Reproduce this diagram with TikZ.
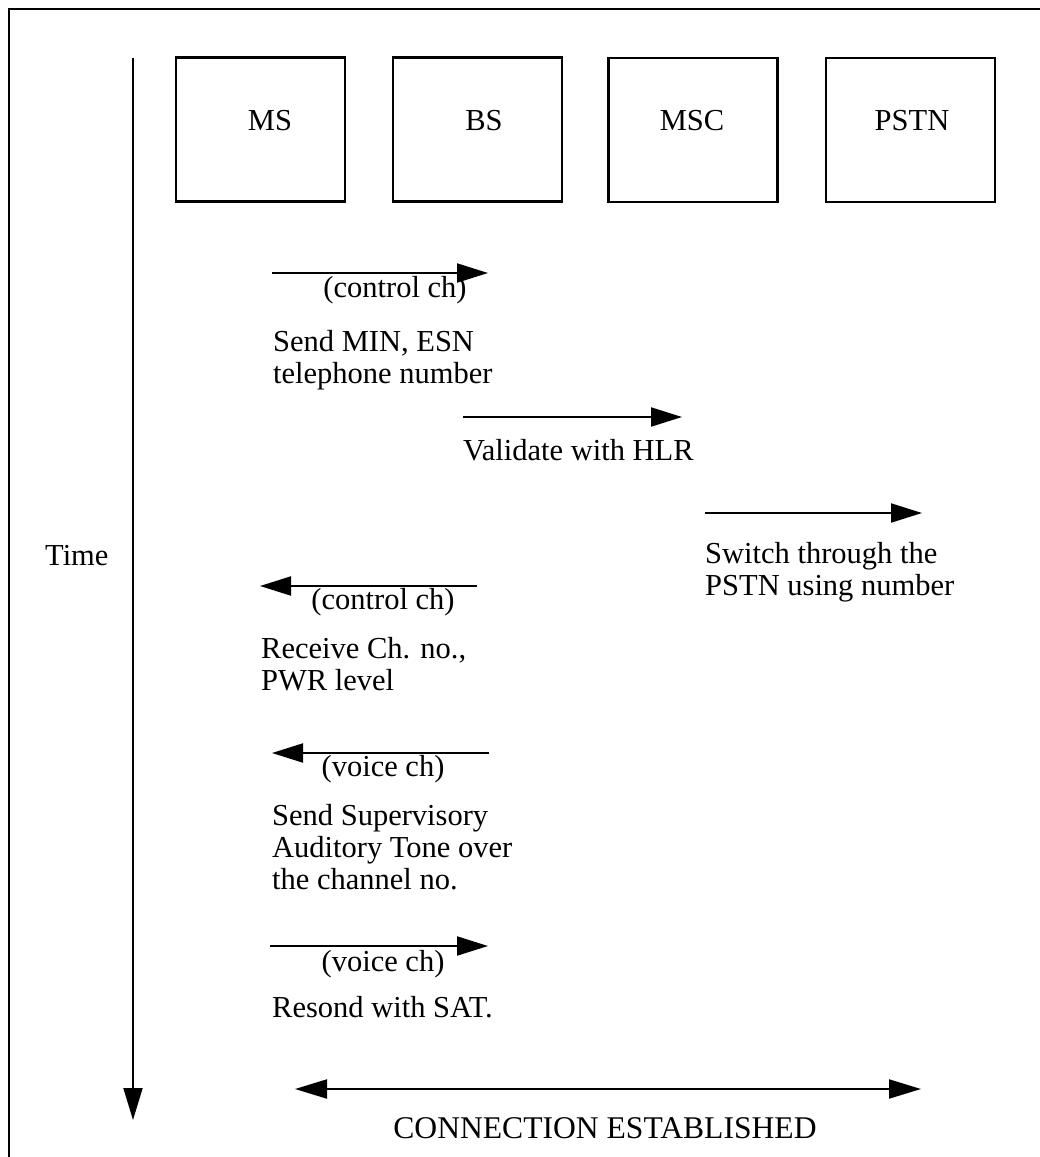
\documentclass[tikz,border=0pt]{standalone}
\usepackage{fontspec}
\setmainfont{Liberation Serif}
\usetikzlibrary{arrows.meta}
\newcommand\twolines[2]{\vtop{\hbox{#1}\hbox{#2}}}
\newcommand\threelines[3]{\vtop{\hbox{#1}\hbox{#2}\hbox{#3}}}
\begin{document}
\begin{tikzpicture}[x=1pt,y=-1pt,
  txt/.style={inner sep=0pt, font=\fontsize{30.5}{32}\selectfont},
  lbl/.style={txt, anchor=base west},
  clbl/.style={txt, anchor=base},
  entity/.style={draw, line width=2.2pt, minimum width=169pt, minimum height=144pt, inner sep=0pt},
  msg/.style={line width=2pt, -{Triangle[length=31pt,width=19pt]}},
  bimsg/.style={line width=2pt, {Triangle[length=32pt,width=19pt]}-{Triangle[length=32pt,width=19pt]}},
  frame/.style={line width=2.2pt},
]
\useasboundingbox (0,0) rectangle (1040,1157);
\fill[white] (0,0) rectangle (1040,1157);

% outer frame (left and top edges visible)
\coordinate (fbl) at (9,1157);
\coordinate (ftl) at (9,9);
\coordinate (ftr) at (1040,9);
\draw[frame] (fbl) -- (ftl) -- (ftr);

% time axis
\coordinate (ts) at (133,58);
\coordinate (te) at (133,1120);
\draw[line width=2pt, -{Triangle[length=32pt,width=19pt]}] (ts) -- (te);
\node[lbl] (time) at (45,565) {Time};

% entities
\node[entity] (ms)   at (260.5,129.5) {};
\node[entity] (bs)   at (477.5,129.5) {};
\node[entity] (msc)  at (693,130) {};
\node[entity] (pstn) at (910.5,130) {};
\node[clbl] (mst)   at (270,130) {MS};
\node[clbl] (bst)   at (484,130) {BS};
\node[clbl] (msct)  at (692,130) {MSC};
\node[clbl] (pstnt) at (912,130) {PSTN};

% message 1
\coordinate (a1s) at (272,273);
\coordinate (a1e) at (488,273);
\draw[msg] (a1s) -- (a1e);
\node[clbl] (a1l) at (395,297) {(control ch)};
\node[lbl] (t1) at (273,351) {\twolines{Send MIN, ESN}{telephone number}};

% message 2
\coordinate (a2s) at (463,417);
\coordinate (a2e) at (682,417);
\draw[msg] (a2s) -- (a2e);
\node[lbl] (t2) at (463,460) {Validate with HLR};

% message 3
\coordinate (a3s) at (705,513);
\coordinate (a3e) at (922,513);
\draw[msg] (a3s) -- (a3e);
\node[lbl] (t3) at (705,563) {\twolines{Switch through the}{PSTN using number}};

% message 4
\coordinate (a4s) at (477,586);
\coordinate (a4e) at (260,586);
\draw[msg] (a4s) -- (a4e);
\node[clbl] (a4l) at (383,609) {(control ch)};
\node[lbl] (t4) at (261,658) {\twolines{Receive Ch. no.,}{PWR level}};

% message 5
\coordinate (a5s) at (489,753);
\coordinate (a5e) at (272,753);
\draw[msg] (a5s) -- (a5e);
\node[clbl] (a5l) at (383,776) {(voice ch)};
\node[lbl] (t5) at (272,825) {\threelines{Send Supervisory}{Auditory Tone over}{the channel no.}};

% message 6
\coordinate (a6s) at (270,946);
\coordinate (a6e) at (488,946);
\draw[msg] (a6s) -- (a6e);
\node[clbl] (a6l) at (383,971) {(voice ch)};
\node[lbl] (t6) at (272,1017) {Resond with SAT.};

% connection established
\coordinate (a7s) at (295,1089);
\coordinate (a7e) at (921,1089);
\draw[bimsg] (a7s) -- (a7e);
\node[clbl, font=\fontsize{31.6}{33}\selectfont] (t7) at (605,1138) {CONNECTION ESTABLISHED};
\end{tikzpicture}
\end{document}
